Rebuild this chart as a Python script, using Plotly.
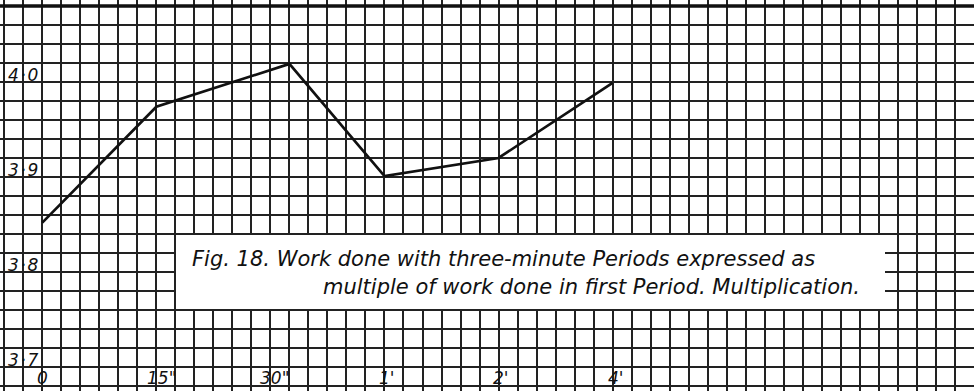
import plotly.graph_objects as go

# ---- data ----
x_units = [0, 6, 13, 18, 24, 30]              # position along the time axis, in grid squares
x_labels = ['0', '15"', '30"', "1'", "2'", "4'"]
work_ratio = [3.852, 3.974, 4.019, 3.901, 3.920, 3.999]
y_tick_values = [4.0, 3.9, 3.8, 3.7]
y_tick_labels = ['4\u200a·\u200a0', '3\u200a·\u200a9', '3\u200a·\u200a8', '3\u200a·\u200a7']
caption_line1 = 'Fig. 18. Work done with three-minute Periods expressed as'
caption_line2 = 'multiple of work done in first Period. Multiplication.'

W, H = 974, 391
X0_PX, UNIT_PX = 42.3, 19.01
Y_AT_0PX, Y_PER_PX = 4.0863, 0.1 / 95.0

x_range = [-X0_PX / UNIT_PX, (W - X0_PX) / UNIT_PX]
y_range = [Y_AT_0PX - H * Y_PER_PX, Y_AT_0PX]

def px_x(p):
    return (p - X0_PX) / UNIT_PX

def px_y(p):
    return Y_AT_0PX - p * Y_PER_PX

fig = go.Figure()
fig.add_trace(go.Scatter(
    x=x_units, y=work_ratio, mode='lines',
    line=dict(color='#111111', width=2.7),
    hoverinfo='skip', showlegend=False))

grid_col = '#222222'
fig.update_xaxes(range=x_range, tick0=0, dtick=1, showgrid=True, gridcolor=grid_col,
                 gridwidth=2, zeroline=False, showticklabels=False, ticks='',
                 showline=False, fixedrange=True)
fig.update_yaxes(range=y_range, tick0=3.7, dtick=0.02, showgrid=True, gridcolor=grid_col,
                 gridwidth=2, zeroline=False, showticklabels=False, ticks='',
                 showline=False, fixedrange=True)

shapes = []
# thick top rule
shapes.append(dict(type='line', xref='paper', yref='y', x0=0, x1=1,
                   y0=px_y(6), y1=px_y(6), line=dict(color='#111', width=3.4), layer='above'))
# white caption panel
shapes.append(dict(type='rect', xref='x', yref='y', x0=px_x(176), x1=px_x(885),
                   y0=px_y(309), y1=px_y(235), fillcolor='white', line=dict(width=0),
                   layer='above'))
fig.update_layout(shapes=shapes)

label_font = dict(family='DejaVu Sans', size=17, color='#111')
annotations = []
for v, t in zip(y_tick_values, y_tick_labels):
    annotations.append(dict(xref='paper', yref='y', x=7 / W, y=v, text='<i>' + t + '</i>',
                            showarrow=False, xanchor='left', yanchor='middle', yshift=7,
                            font=label_font, borderpad=0))
x_shifts = [0, 5, -15, 3, 2, 3]
for xv, t, s in zip(x_units, x_labels, x_shifts):
    annotations.append(dict(xref='x', yref='y', x=xv, y=3.7, text='<i>' + t + '</i>',
                            showarrow=False, xanchor='center', yanchor='middle', xshift=s,
                            yshift=-11, font=label_font, borderpad=0))
cap_font = dict(family='DejaVu Sans', size=21, color='#111')
annotations.append(dict(xref='x', yref='y', x=px_x(190), y=px_y(259),
                        text='<i>' + caption_line1 + '</i>', showarrow=False,
                        xanchor='left', yanchor='middle', font=cap_font))
annotations.append(dict(xref='x', yref='y', x=px_x(862), y=px_y(287),
                        text='<i>' + caption_line2 + '</i>', showarrow=False,
                        xanchor='right', yanchor='middle', font=cap_font))
fig.update_layout(annotations=annotations)

fig.update_layout(width=W, height=H, autosize=False,
                  margin=dict(l=0, r=0, t=0, b=0, pad=0),
                  paper_bgcolor='white', plot_bgcolor='white')

fig.write_html('out.html', config={'displayModeBar': False, 'staticPlot': True},
               post_script="document.body.style.margin='0';document.body.style.overflow='hidden';")
